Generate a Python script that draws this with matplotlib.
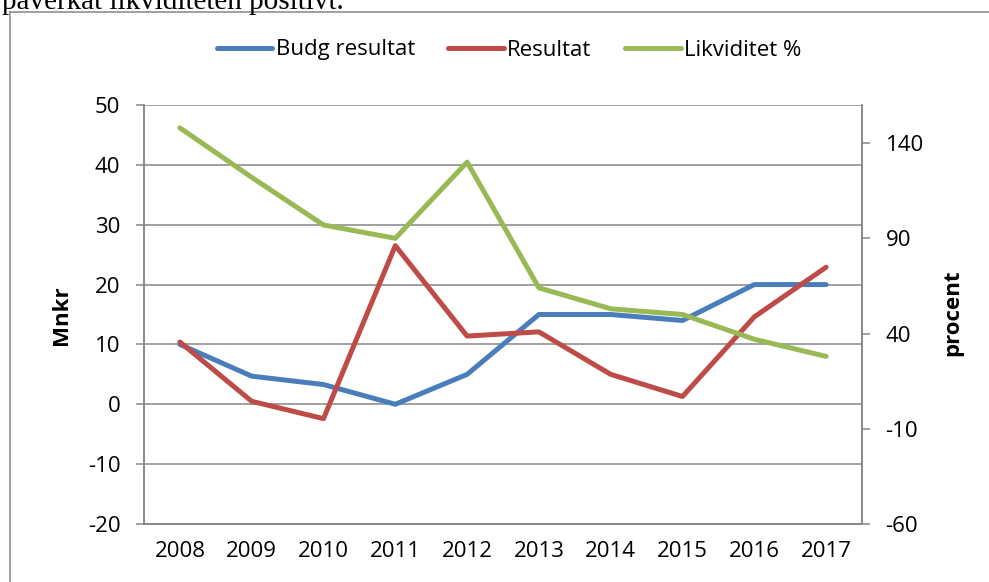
import matplotlib.pyplot as plt
from matplotlib.lines import Line2D

plt.rcParams['font.family'] = ['Open Sans', 'DejaVu Sans']

years = ['2008', '2009', '2010', '2011', '2012', '2013', '2014', '2015', '2016', '2017']
budg_resultat = [10.0, 4.7, 3.3, 0.0, 5.0, 15.0, 15.0, 14.0, 20.0, 20.0]
resultat = [10.4, 0.5, -2.4, 26.5, 11.4, 12.1, 5.0, 1.3, 14.6, 22.9]
likviditet = [148, 122, 97, 90, 130, 64, 53, 50, 37, 28]

blue = '#4A7EBB'
red = '#BE4B48'
green = '#98B954'
grey = '#868686'
fs = 16

W, H = 989, 582
fig = plt.figure(figsize=(W / 100, H / 100), dpi=100)
ax = fig.add_axes([144 / W, 1 - 524 / H, 718 / W, 419 / H])
ax2 = ax.twinx()

x = range(len(years))
l1, = ax.plot(x, budg_resultat, color=blue, lw=3.6, solid_capstyle='round', label='Budg resultat')
l2, = ax.plot(x, resultat, color=red, lw=3.6, solid_capstyle='round', label='Resultat')
l3, = ax2.plot(x, likviditet, color=green, lw=3.6, solid_capstyle='round', label='Likviditet %')

ax.set_xlim(-0.5, len(years) - 0.5)
ax.set_ylim(-20, 50)
ax.set_yticks(range(-20, 51, 10))
ax.set_yticklabels([str(v) for v in range(-20, 51, 10)])
ax2.set_ylim(-60, 160)
ax2.set_yticks(range(-60, 141, 50))
ax2.set_yticklabels([str(v) for v in range(-60, 141, 50)])
ax.set_xticks(list(x))
ax.set_xticklabels(years)

ax.grid(axis='y', color=grey, lw=1.1)
ax.set_axisbelow(True)
for a in (ax, ax2):
    for s in a.spines.values():
        s.set_color(grey)
        s.set_linewidth(1.1)
    a.spines['top'].set_visible(False)

ax.tick_params(axis='y', length=6, width=1.1, color=grey, labelsize=fs, pad=11)
ax.tick_params(axis='x', length=0, labelsize=fs, pad=12)
ax2.tick_params(axis='y', length=6, width=1.1, color=grey, labelsize=fs, pad=11)

fig.text(62 / W, 1 - 315 / H, 'Mnkr', rotation=90, ha='center', va='center',
         fontsize=fs, fontweight='bold')
fig.text(953 / W, 1 - 313 / H, 'procent', rotation=90, ha='center', va='center',
         fontsize=fs, fontweight='bold')

fig.legend(handles=[l1, l2, l3], loc='center', bbox_to_anchor=(509 / W, 1 - 50 / H),
           ncol=3, frameon=False, fontsize=fs, handlelength=2.5, handletextpad=0.15,
           columnspacing=1.5)

# chart frame and the cut-off text line above it
fig.add_artist(Line2D([10 / W, 10 / W], [0, 1 - 12 / H], color=grey, lw=1.1))
fig.add_artist(Line2D([10 / W, 1], [1 - 12 / H, 1 - 12 / H], color=grey, lw=1.1))
fig.text(2 / W, 1 - 9 / H, 'påverkat likviditeten positivt.', family='Liberation Serif',
         fontsize=21, va='baseline', ha='left')

plt.savefig('out.png', dpi=100)
